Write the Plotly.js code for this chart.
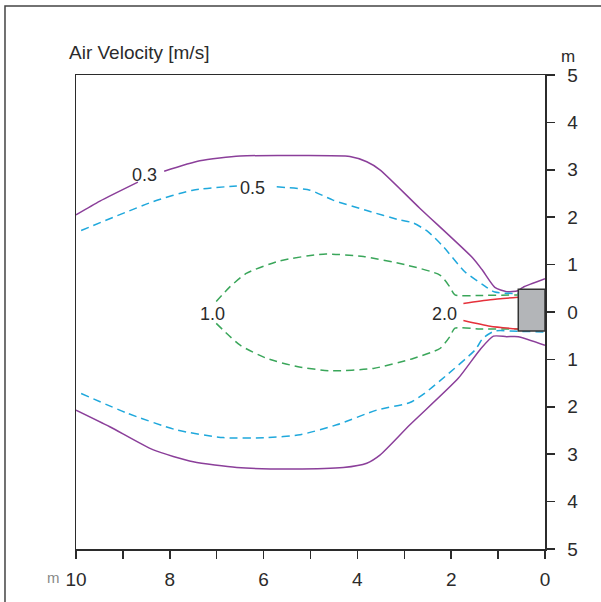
<!DOCTYPE html>
<html>
<head>
<meta charset="utf-8">
<script src="https://cdn.plot.ly/plotly-3.0.1.min.js"></script>
<style>
  html, body { margin: 0; padding: 0; background: #fff; }
</style>
</head>
<body>
<div id="chart" style="width:601px;height:602px;"></div>
<script>
// contour lines, distance in m (x from the outlet, y across)
const v03UpperX = [10.0, 9.49, 8.68, null, 8.12, 7.36, 6.50, 5.22, 4.16, 3.80, 3.52, 2.67, 1.54, 1.34, 1.07, 0.82, 0.58, 0.47, 0.0];
const v03UpperY = [2.05, 2.34, 2.74, null, 2.97, 3.19, 3.29, 3.30, 3.28, 3.17, 3.00, 2.19, 1.14, 0.89, 0.52, 0.43, 0.45, 0.52, 0.70];
const v03LowerX = [10.0, 9.28, 8.35, 7.50, 6.57, 5.37, 4.30, 3.80, 3.52, 2.88, 1.85, 1.39, 1.10, 0.82, 0.57, 0.0];
const v03LowerY = [-2.07, -2.42, -2.91, -3.16, -3.28, -3.31, -3.28, -3.19, -3.02, -2.38, -1.40, -0.80, -0.51, -0.52, -0.52, -0.70];

const v05UpperX = [9.89, 8.35, 7.51, 6.57, null, 5.72, 5.01, 4.52, 3.80, 3.09, 2.81, 2.49, 2.17, 1.71, 1.32, 1.07, 0.5];
const v05UpperY = [1.72, 2.33, 2.57, 2.66, null, 2.64, 2.57, 2.36, 2.14, 1.94, 1.88, 1.69, 1.38, 0.85, 0.57, 0.42, 0.39];
const v05LowerX = [9.89, 8.92, 7.85, 6.86, 5.93, 5.22, 4.44, 3.59, 2.88, 2.56, 2.13, 1.49, 1.32, 1.07, 0.53, 0.0];
const v05LowerY = [-1.72, -2.13, -2.49, -2.65, -2.65, -2.59, -2.38, -2.07, -1.91, -1.71, -1.36, -0.80, -0.55, -0.40, -0.41, -0.42];

const v10UpperX = [7.01, 6.72, 6.36, 5.65, 4.73, 3.87, 2.95, 2.24, 2.03, 1.92, 1.39, 0.58];
const v10UpperY = [0.22, 0.53, 0.82, 1.08, 1.22, 1.17, 0.99, 0.78, 0.53, 0.36, 0.35, 0.36];
const v10LowerX = [7.01, 6.50, 5.93, 5.29, 4.58, 3.66, 2.81, 2.24, 2.03, 1.92, 1.39, 0.58];
const v10LowerY = [-0.24, -0.70, -0.98, -1.15, -1.24, -1.19, -0.98, -0.77, -0.52, -0.34, -0.36, -0.36];

const v20UpperX = [1.74, 1.17, 0.57];
const v20UpperY = [0.18, 0.26, 0.31];
const v20LowerX = [1.74, 1.17, 0.57];
const v20LowerY = [-0.18, -0.30, -0.36];

// contour labels
const levelLabels = ["0.3", "0.5", "1.0", "2.0"];
const labelX = [8.53, 6.23, 7.08, 2.15];
const labelY = [2.89, 2.62, -0.04, -0.05];

// air outlet box
const outletX = [0.57, 0.0];
const outletY = [-0.40, 0.48];

// axis ticks
const xTicks = [10, 9, 8, 7, 6, 5, 4, 3, 2, 1, 0];
const xTickText = ["10", "", "8", "", "6", "", "4", "", "2", "", "0"];
const yTicks = [5, 4, 3, 2, 1, 0, -1, -2, -3, -4, -5];
const yTickText = ["5", "4", "3", "2", "1", "0", "1", "2", "3", "4", "5"];

const FONT = "'Liberation Sans', Arial, sans-serif";
const INK = "#2b2b2b";

function line(x, y, color, dash) {
    return {
        x: x, y: y,
        type: "scatter",
        mode: "lines",
        line: { color: color, width: 1.5, dash: dash, shape: "spline", smoothing: 0.6 },
        connectgaps: false,
        hoverinfo: "skip",
        showlegend: false,
    };
}

const purple = "#8b3f9a";
const blue = "#1fa8dc";
const green = "#3aa65a";
const red = "#e5313b";
const dashes = "8px,5px";

const traces = [
    line(v03UpperX, v03UpperY, purple, "solid"),
    line(v03LowerX, v03LowerY, purple, "solid"),
    line(v05UpperX, v05UpperY, blue, dashes),
    line(v05LowerX, v05LowerY, blue, dashes),
    line(v10UpperX, v10UpperY, green, dashes),
    line(v10LowerX, v10LowerY, green, dashes),
    line(v20UpperX, v20UpperY, red, "solid"),
    line(v20LowerX, v20LowerY, red, "solid"),
];

const annotations = levelLabels.map((t, i) => ({
    x: labelX[i], y: labelY[i], xref: "x", yref: "y",
    text: t, showarrow: false,
    font: { family: FONT, size: 18, color: INK },
}));

// title and unit marks
annotations.push(
    { xref: "paper", yref: "paper", x: -0.019, y: 1.0485, xanchor: "left", yanchor: "middle",
      text: "Air Velocity [m/s]", showarrow: false, font: { family: FONT, size: 19, color: INK } },
    { xref: "paper", yref: "paper", x: 1.049, y: 1.038, xanchor: "center", yanchor: "middle",
      text: "m", showarrow: false, font: { family: FONT, size: 17, color: INK } },
    { xref: "paper", yref: "paper", x: -0.047, y: -0.061, xanchor: "center", yanchor: "middle",
      text: "m", showarrow: false, font: { family: FONT, size: 15, color: "#888" } }
);

const layout = {
    width: 601,
    height: 602,
    margin: { l: 76, r: 56, t: 75, b: 53, pad: 0 },
    paper_bgcolor: "#fff",
    plot_bgcolor: "#fff",
    showlegend: false,
    font: { family: FONT, size: 19, color: INK },
    xaxis: {
        range: [10, 0],
        tickmode: "array",
        tickvals: xTicks,
        ticktext: xTickText,
        ticks: "outside",
        ticklen: 8,
        tickwidth: 1.5,
        tickcolor: INK,
        ticklabelstandoff: 5,
        showline: true,
        linecolor: INK,
        linewidth: 1.5,
        mirror: true,
        showgrid: false,
        zeroline: false,
        tickfont: { family: FONT, size: 19, color: INK },
    },
    yaxis: {
        range: [-5, 5],
        side: "right",
        tickmode: "array",
        tickvals: yTicks,
        ticktext: yTickText,
        ticks: "outside",
        ticklen: 8,
        tickwidth: 1.5,
        tickcolor: INK,
        ticklabelstandoff: 9,
        showline: true,
        linecolor: INK,
        linewidth: 1.5,
        mirror: true,
        showgrid: false,
        zeroline: false,
        tickfont: { family: FONT, size: 19, color: INK },
    },
    shapes: [
        // outlet
        { type: "rect", xref: "x", yref: "y", layer: "above",
          x0: outletX[0], x1: outletX[1], y0: outletY[0], y1: outletY[1],
          fillcolor: "#b3b5b8", line: { color: "#333", width: 1.5 } },
        // outer frame, running off the right and bottom edges
        { type: "rect", xref: "paper", yref: "paper", layer: "above",
          x0: -0.1514, x1: 2, y0: -1, y1: 1.1456,
          fillcolor: "rgba(0,0,0,0)", line: { color: "#444", width: 1.5 } },
    ],
    annotations: annotations,
};

Plotly.newPlot("chart", traces, layout, { staticPlot: true, displayModeBar: false });
</script>
</body>
</html>
